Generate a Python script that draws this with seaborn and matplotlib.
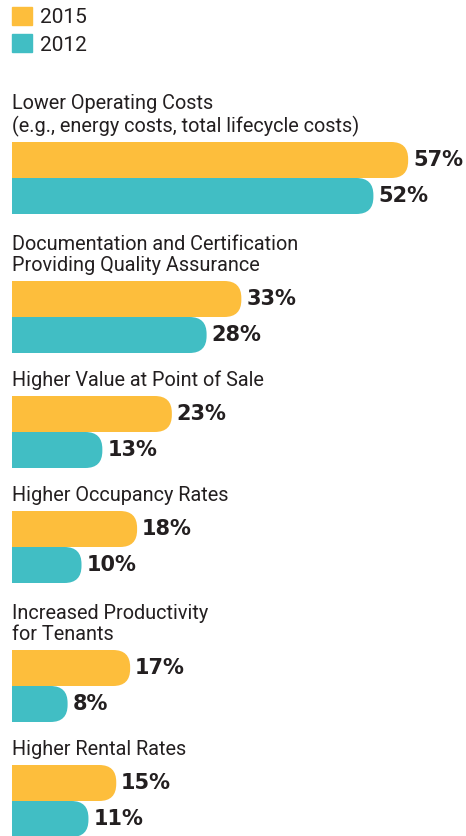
import matplotlib
matplotlib.use("Agg")
import matplotlib.pyplot as plt
from matplotlib.patches import FancyBboxPatch, Patch
import pandas as pd
import seaborn as sns

sns.set_style("white")
plt.rcParams["font.family"] = ["Roboto", "DejaVu Sans"]

# --- data ---
categories = [
    "Lower Operating Costs\n(e.g., energy costs, total lifecycle costs)",
    "Documentation and Certification\nProviding Quality Assurance",
    "Higher Value at Point of Sale",
    "Higher Occupancy Rates",
    "Increased Productivity\nfor Tenants",
    "Higher Rental Rates",
]
vals_2015 = [57, 33, 23, 18, 17, 15]
vals_2012 = [52, 28, 13, 10, 8, 11]
years = ["2015", "2012"]

colors = {"2015": "#FDBE3C", "2012": "#41BEC4"}
text_col = "#231F20"

rows = []
for cat, a, b in zip(categories, vals_2015, vals_2012):
    rows.append({"category": cat, "year": "2015", "pct": a})
    rows.append({"category": cat, "year": "2012", "pct": b})
df = pd.DataFrame(rows)

W, H = 466, 836
fig = plt.figure(figsize=(W / 100, H / 100), dpi=100)

left_px = 12
px_per_pct = 6.95
bar_h_px = 72
xmax = (W - left_px) / px_per_pct

# legend
handles = [Patch(color=colors[y], label=y) for y in years]
fig.legend(handles=handles, loc="upper left", bbox_to_anchor=(left_px / W, 1 - 7 / H),
           frameon=False, fontsize=15, handlelength=0.95, handleheight=0.95,
           handletextpad=0.4, labelspacing=0.35, borderpad=0, borderaxespad=0,
           labelcolor=text_col)

top = 142
for i, cat in enumerate(categories):
    nlines = cat.count("\n") + 1
    if i > 0:
        top += 19 + 24 * nlines
    ax = fig.add_axes([left_px / W, 1 - (top + bar_h_px) / H,
                       (W - left_px) / W, bar_h_px / H])
    top += bar_h_px
    sub = df[df["category"] == cat]
    sns.barplot(data=sub, y="year", x="pct", hue="year", order=years,
                hue_order=years, palette=colors, width=1.0, orient="h",
                legend=False, ax=ax, saturation=1)
    ax.set_xlim(0, xmax)
    ax.set_ylim(1.5, -0.5)
    ax.axis("off")

    # rounded right ends
    sx = (W - left_px) / xmax
    sy = bar_h_px / 2
    r = 17 / sx
    for p in list(ax.patches):
        x0, y0 = p.get_x(), p.get_y()
        w, h = p.get_width(), p.get_height()
        fc = p.get_facecolor()
        p.remove()
        ax.add_patch(FancyBboxPatch((x0 - r, y0), w + r, h,
                                    boxstyle=f"round,pad=0,rounding_size={r}",
                                    mutation_aspect=sx / sy, facecolor=fc,
                                    edgecolor="none", clip_on=True))
        ax.annotate(f"{int(round(w))}%", xy=(w, y0 + h / 2), xytext=(3.5, 0),
                    textcoords="offset points", va="center", ha="left",
                    fontsize=15, fontweight="bold", family="DejaVu Sans",
                    color=text_col, annotation_clip=False)

    # category label, baseline ~10 px above the bars
    ax.text(0, 1 + 10 / bar_h_px, cat, transform=ax.transAxes, va="baseline",
            ha="left", fontsize=14.3, color=text_col, linespacing=1.15)

fig.savefig("out.png", dpi=100)
